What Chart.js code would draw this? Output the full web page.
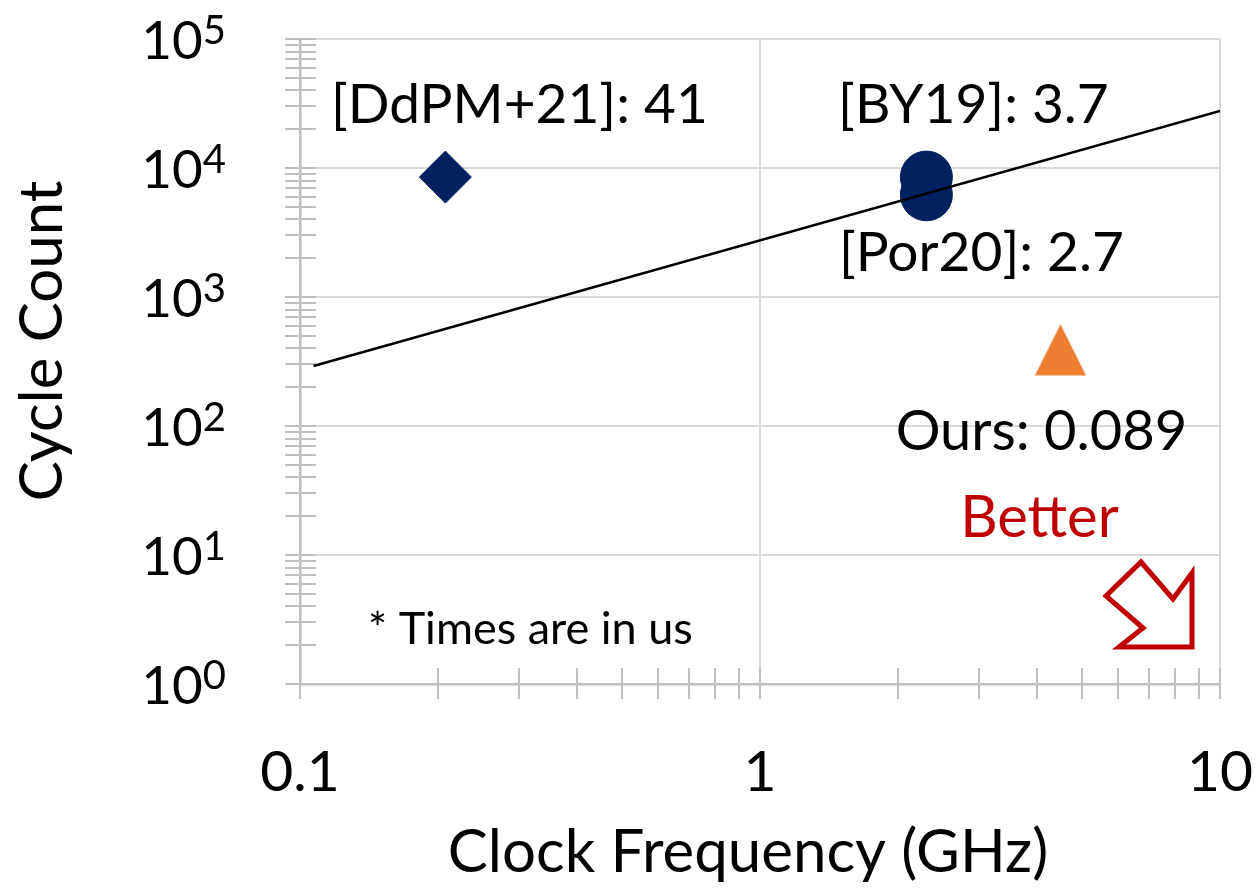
<!DOCTYPE html>
<html><head><meta charset="utf-8">
<script src="https://cdn.jsdelivr.net/npm/chart.js@4.4.0/dist/chart.umd.min.js"></script>
<style>html,body{margin:0;padding:0;background:#fff;}#wrap{width:1256px;height:888px;}</style>
</head><body><div id="wrap"><canvas id="c" width="1256" height="888"></canvas></div>
<script>
// ---- data ----
const ddpmX = [0.207];
const ddpmY = [8500];
const priorX = [2.3, 2.3];
const priorY = [8500, 6200];
const oursX = [4.5];
const oursY = [390];
const trendX = [0.107, 10];
const trendY = [292, 27700];
const pointLabels = ['[DdPM+21]: 41', '[BY19]: 3.7', '[Por20]: 2.7', 'Ours: 0.089'];
const xTickValues = [0.1, 1, 10];
const xTickLabels = ['0.1', '1', '10'];
const yTickValues = [1, 10, 100, 1000, 10000, 100000];
const yTickExponents = ['0', '1', '2', '3', '4', '5'];
const xTitle = 'Clock Frequency (GHz)';
const yTitle = 'Cycle Count';
const noteText = '* Times are in us';
const betterText = 'Better';

// ---- styles ----
const FONT = 'Lato';
const NAVY = '#002060', ORANGE = '#ed7d31', RED = '#c00000';
const GRID = '#d9d9d9', AXIS = '#bfbfbf';

const toPts = (xs, ys) => xs.map((x, i) => ({x: x, y: ys[i]}));
const isPow10 = v => Math.abs(Math.log10(v) - Math.round(Math.log10(v))) < 1e-9;

function logTicks(axis) {
  const lo = Math.floor(Math.log10(axis.min) + 1e-9), hi = Math.round(Math.log10(axis.max));
  const t = [];
  for (let e = lo; e <= hi; e++) {
    for (let k = 1; k <= 9; k++) {
      const v = +(k * Math.pow(10, e)).toPrecision(6);
      if (v >= axis.min * 0.999999 && v <= axis.max * 1.000001) t.push({value: v, major: k === 1});
    }
  }
  axis.ticks = t;
}

// triangle marker image (Excel-style)
const tri = document.createElement('canvas');
tri.width = 52; tri.height = 52;
(function(){const g = tri.getContext('2d'); g.fillStyle = ORANGE; g.beginPath(); g.moveTo(26, 0.5); g.lineTo(51.5, 51.5); g.lineTo(0.5, 51.5); g.closePath(); g.fill();})();

const decor = {
  id: 'decor',
  beforeDatasetsDraw(chart) {
    const ctx = chart.ctx, xs = chart.scales.x, ys = chart.scales.y;
    ctx.save();
    ctx.strokeStyle = AXIS; ctx.lineWidth = 2;
    ys.ticks.forEach(t => {
      const py = Math.round(ys.getPixelForValue(t.value));
      ctx.beginPath(); ctx.moveTo(xs.left - 15, py); ctx.lineTo(xs.left + 16, py); ctx.stroke();
    });
    xs.ticks.forEach(t => {
      const px = Math.round(xs.getPixelForValue(t.value));
      ctx.beginPath(); ctx.moveTo(px, ys.bottom - 16); ctx.lineTo(px, ys.bottom + 15); ctx.stroke();
    });
    ctx.restore();
  },
  afterDraw(chart) {
    const ctx = chart.ctx, xs = chart.scales.x, ys = chart.scales.y, a = chart.chartArea;
    ctx.save();
    ctx.fillStyle = '#000';
    ctx.textBaseline = 'alphabetic';
    // x tick labels
    ctx.font = '57px ' + FONT; ctx.textAlign = 'center';
    xTickValues.forEach((v, i) => ctx.fillText(xTickLabels[i], xs.getPixelForValue(v), a.bottom + 107));
    // y tick labels with superscript exponent
    yTickValues.forEach((v, i) => {
      const py = ys.getPixelForValue(v);
      ctx.font = '40px ' + FONT; const sw = ctx.measureText(yTickExponents[i]).width;
      ctx.textAlign = 'right';
      ctx.fillText(yTickExponents[i], 226, py + 5);
      ctx.font = '53px ' + FONT;
      ctx.fillText('10', 226 - sw, py + 20);
    });
    // axis titles
    ctx.font = '60px ' + FONT; ctx.textAlign = 'center';
    ctx.fillText(xTitle, 748, 872);
    ctx.save(); ctx.translate(62, 341); ctx.rotate(-Math.PI / 2); ctx.fillText(yTitle, 0, 0); ctx.restore();
    // point labels
    ctx.font = '55px ' + FONT;
    const d = chart.getDatasetMeta(1).data[0], p = chart.getDatasetMeta(2).data, o = chart.getDatasetMeta(3).data[0];
    ctx.fillText(pointLabels[0], d.x + 74, d.y - 54);
    ctx.fillText(pointLabels[1], p[0].x + 47, p[0].y - 54);
    ctx.fillText(pointLabels[2], p[1].x + 55, p[1].y + 76);
    ctx.font = '56px ' + FONT;
    ctx.fillText(pointLabels[3], o.x - 19, o.y + 100);
    // Better
    ctx.fillStyle = RED;
    ctx.font = '58px ' + FONT;
    ctx.fillText(betterText, o.x - 21, o.y + 187);
    // note
    ctx.fillStyle = '#000'; ctx.font = '45px ' + FONT; ctx.textAlign = 'left';
    ctx.fillText(noteText, a.left + 68, a.bottom - 40);
    // hollow arrow
    const ax = a.right, ay = a.bottom;
    const poly = [[-28, -111], [-28, -37], [-101, -37], [-77, -56], [-114, -88], [-79, -122], [-47, -85]];
    ctx.beginPath();
    poly.forEach((q, i) => i ? ctx.lineTo(ax + q[0], ay + q[1]) : ctx.moveTo(ax + q[0], ay + q[1]));
    ctx.closePath();
    ctx.fillStyle = '#fff'; ctx.fill();
    ctx.strokeStyle = RED; ctx.lineWidth = 5; ctx.lineJoin = 'miter'; ctx.stroke();
    ctx.restore();
  }
};

new Chart(document.getElementById('c'), {
  type: 'scatter',
  data: {
    datasets: [
      {label: 'trend', data: toPts(trendX, trendY), showLine: true, borderColor: '#000', borderWidth: 2.5, pointRadius: 0, fill: false},
      {label: 'DdPM+21', data: toPts(ddpmX, ddpmY), pointStyle: 'rectRot', pointRadius: 26, backgroundColor: NAVY, borderColor: NAVY, borderWidth: 1},
      {label: 'prior', data: toPts(priorX, priorY), pointStyle: 'circle', pointRadius: 26, backgroundColor: NAVY, borderColor: NAVY, borderWidth: 1},
      {label: 'ours', data: toPts(oursX, oursY), pointStyle: tri, pointRadius: 26, backgroundColor: ORANGE, borderWidth: 0}
    ]
  },
  options: {
    responsive: false,
    animation: false,
    events: [],
    layout: {padding: {top: 39, right: 36, left: 0, bottom: 0}},
    plugins: {legend: {display: false}, tooltip: {enabled: false}},
    scales: {
      x: {
        type: 'logarithmic', min: 0.1, max: 10,
        afterBuildTicks: logTicks,
        afterFit: s => { s.height = 204; },
        ticks: {display: false, autoSkip: false},
        grid: {drawTicks: false, lineWidth: 2, color: c => (c.tick && isPow10(c.tick.value)) ? GRID : 'rgba(0,0,0,0)'},
        border: {display: true, color: AXIS, width: 2.5}
      },
      y: {
        type: 'logarithmic', min: 1, max: 100000,
        afterBuildTicks: logTicks,
        afterFit: s => { s.width = 300; },
        ticks: {display: false, autoSkip: false},
        grid: {drawTicks: false, lineWidth: 2, color: c => (c.tick && isPow10(c.tick.value)) ? GRID : 'rgba(0,0,0,0)'},
        border: {display: true, color: AXIS, width: 2.5}
      }
    }
  },
  plugins: [decor]
});
</script></body></html>
